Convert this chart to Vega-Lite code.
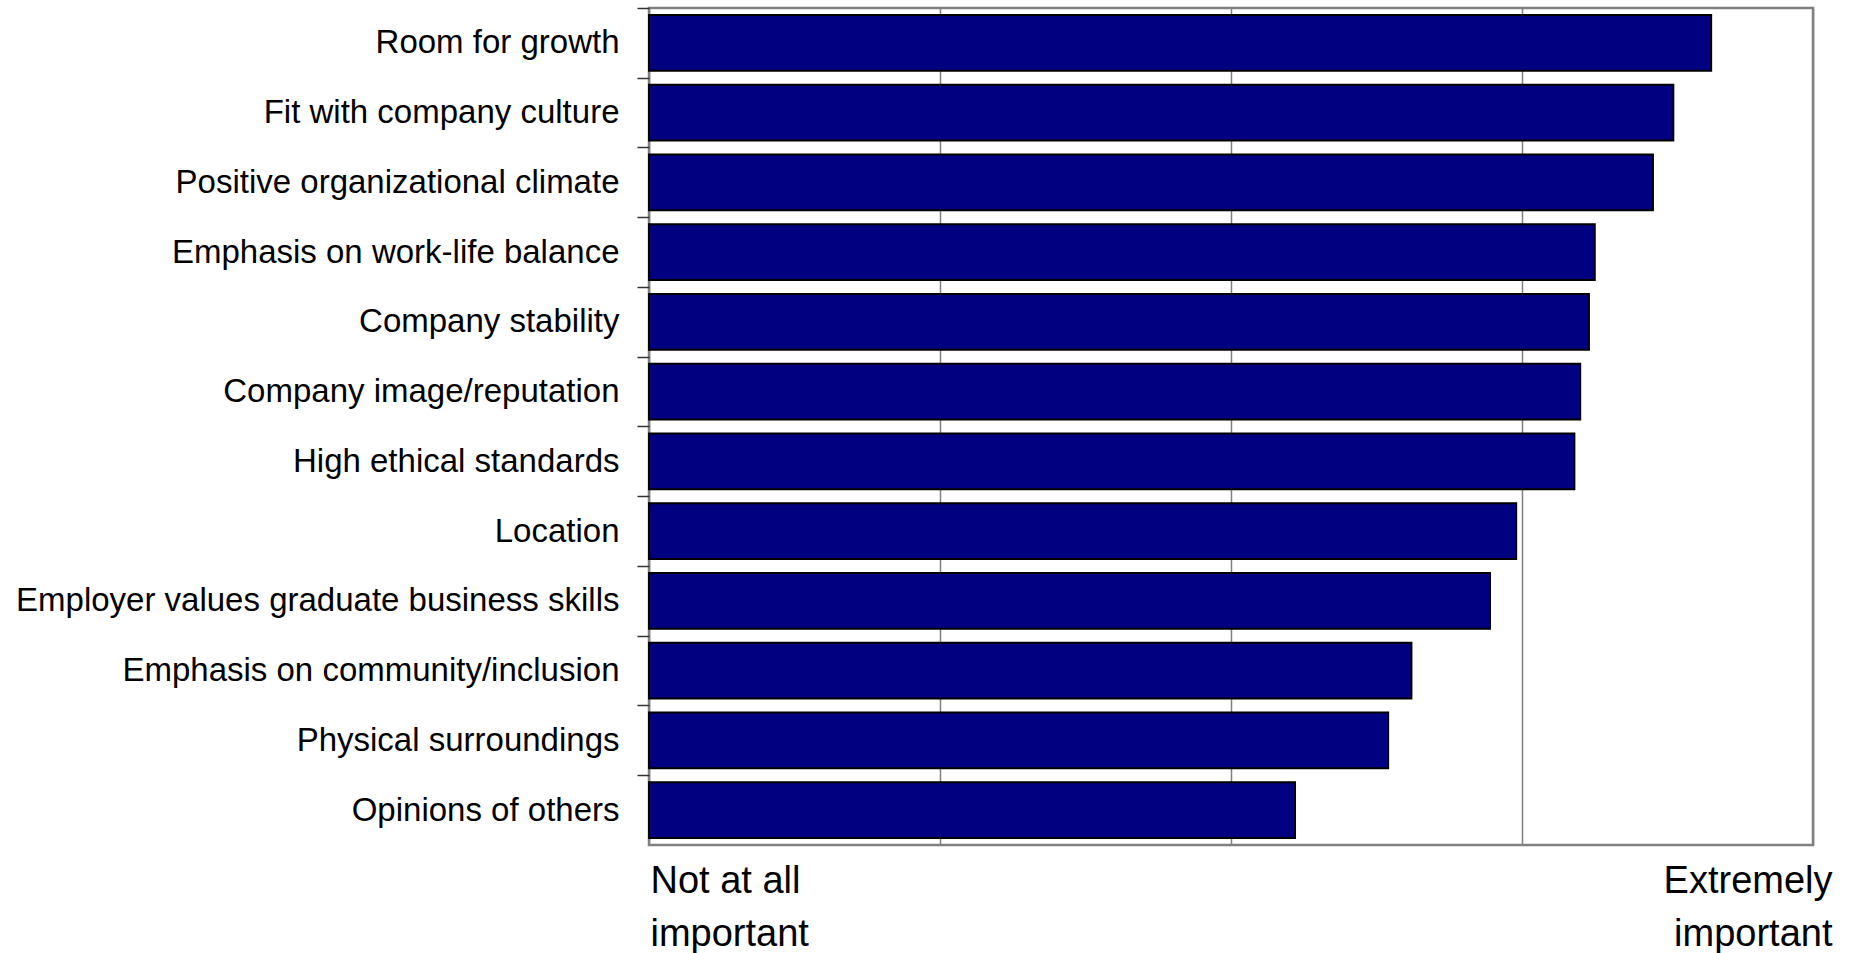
{
  "$schema": "https://vega.github.io/schema/vega-lite/v6.json",
  "width": 1164,
  "height": 837,
  "autosize": {"type": "none"},
  "padding": {"left": 649, "top": 8, "right": 41, "bottom": 108},
  "background": "white",
  "config": {
    "view": {"stroke": "#808080", "strokeWidth": 2.5},
    "font": "Liberation Sans"
  },
  "data": {
    "values": [
      {"factor": "Room for growth", "importance": 4.65},
      {"factor": "Fit with company culture", "importance": 4.52},
      {"factor": "Positive organizational climate", "importance": 4.45},
      {"factor": "Emphasis on work-life balance", "importance": 4.25},
      {"factor": "Company stability", "importance": 4.23},
      {"factor": "Company image/reputation", "importance": 4.2},
      {"factor": "High ethical standards", "importance": 4.18},
      {"factor": "Location", "importance": 3.98},
      {"factor": "Employer values graduate business skills", "importance": 3.89},
      {"factor": "Emphasis on community/inclusion", "importance": 3.62},
      {"factor": "Physical surroundings", "importance": 3.54},
      {"factor": "Opinions of others", "importance": 3.22}
    ]
  },
  "mark": {"type": "bar", "fill": "#000080", "stroke": "#000000", "strokeWidth": 2},
  "encoding": {
    "y": {
      "field": "factor",
      "type": "nominal",
      "sort": null,
      "scale": {"paddingInner": 0.2, "paddingOuter": 0.1},
      "axis": {
        "title": null,
        "domain": false,
        "bandPosition": 0,
        "tickOffset": -6.975,
        "labelOffset": 6.975,
        "tickSize": 12,
        "tickColor": "#333333",
        "tickWidth": 1.5,
        "labelPadding": 18,
        "labelFont": "Liberation Sans",
        "labelFontSize": 33,
        "labelColor": "#000000",
        "labelLimit": 0
      }
    },
    "x": {
      "field": "importance",
      "type": "quantitative",
      "scale": {"domain": [1, 5], "nice": false, "zero": false},
      "axis": {
        "title": null,
        "values": [1, 2, 3, 4, 5],
        "grid": true,
        "gridColor": "#808080",
        "gridWidth": 1.5,
        "domain": false,
        "ticks": false,
        "tickSize": 0,
        "labelExpr": "datum.value == 1 ? ['Not at all', 'important'] : datum.value == 5 ? ['Extremely', 'important'] : ''",
        "labelAlign": {"condition": {"test": "datum.value == 5", "value": "right"}, "value": "left"},
        "labelOffset": {"condition": {"test": "datum.value == 5", "value": 19}, "value": 1},
        "labelBaseline": "top",
        "labelFont": "Liberation Sans",
        "labelFontSize": 38,
        "labelLineHeight": 53,
        "labelColor": "#000000",
        "labelPadding": 17,
        "labelFlush": false,
        "labelOverlap": false,
        "labelBound": false,
        "labelLimit": 0
      }
    },
    "x2": {"datum": 1}
  }
}
